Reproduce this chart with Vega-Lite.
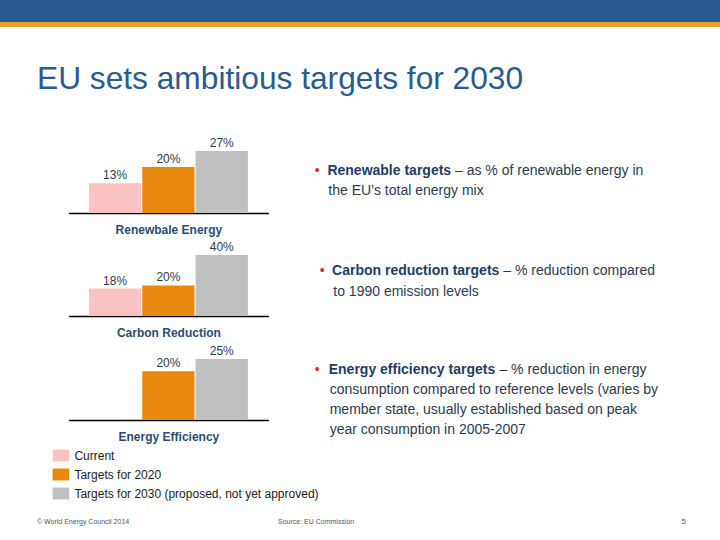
{
  "$schema": "https://vega.github.io/schema/vega-lite/v6.json",
  "padding": 0,
  "background": "white",
  "spacing": 0,
  "datasets": {
    "targets": [
      {"category": "Renewbale Energy", "series": "Current", "value": 0.13},
      {"category": "Renewbale Energy", "series": "Targets for 2020", "value": 0.20},
      {"category": "Renewbale Energy", "series": "Targets for 2030 (proposed, not yet approved)", "value": 0.27},
      {"category": "Carbon Reduction", "series": "Current", "value": 0.18},
      {"category": "Carbon Reduction", "series": "Targets for 2020", "value": 0.20},
      {"category": "Carbon Reduction", "series": "Targets for 2030 (proposed, not yet approved)", "value": 0.40},
      {"category": "Energy Efficiency", "series": "Targets for 2020", "value": 0.20},
      {"category": "Energy Efficiency", "series": "Targets for 2030 (proposed, not yet approved)", "value": 0.25}
    ],
    "notes": [
      {"target": "Renewable", "part": "bullet", "line": 1, "text": "•"},
      {"target": "Renewable", "part": "lead", "line": 1, "text": "Renewable targets"},
      {"target": "Renewable", "part": "rest", "line": 1, "text": "– as % of renewable energy in"},
      {"target": "Renewable", "part": "cont", "line": 2, "text": "the EU’s total energy mix"},
      {"target": "Carbon", "part": "bullet", "line": 1, "text": "•"},
      {"target": "Carbon", "part": "lead", "line": 1, "text": "Carbon reduction targets"},
      {"target": "Carbon", "part": "rest", "line": 1, "text": "– % reduction compared"},
      {"target": "Carbon", "part": "cont", "line": 2, "text": "to 1990 emission levels"},
      {"target": "Efficiency", "part": "bullet", "line": 1, "text": "•"},
      {"target": "Efficiency", "part": "lead", "line": 1, "text": "Energy efficiency targets"},
      {"target": "Efficiency", "part": "rest", "line": 1, "text": "–  % reduction in energy"},
      {"target": "Efficiency", "part": "cont", "line": 2, "text": "consumption compared to reference levels (varies by"},
      {"target": "Efficiency", "part": "cont", "line": 3, "text": "member state, usually established based on peak"},
      {"target": "Efficiency", "part": "cont", "line": 4, "text": "year consumption in 2005-2007"}
    ],
    "footer": [
      {"slot": "left", "label": "© World Energy Council 2014"},
      {"slot": "center", "label": "Source: EU Commission"},
      {"slot": "right", "label": "5"}
    ]
  },
  "vconcat": [
    {
      "width": 720, "height": 22,
      "data": {"values": [{"band": "header"}]},
      "mark": {"type": "rect", "color": "#275a8e"},
      "encoding": {}
    },
    {
      "width": 720, "height": 5,
      "data": {"values": [{"band": "stripe"}]},
      "mark": {"type": "rect", "color": "#e8a21d"},
      "encoding": {},
      "title": {"text": "EU sets ambitious targets for 2030", "orient": "bottom", "anchor": "start", "frame": "group", "baseline": "top", "dx": 37, "offset": 37, "fontSize": 31.7, "fontWeight": "normal", "color": "#2a5b8e", "font": "Liberation Sans"}
    },
    {
      "hconcat": [
        {"width": 22.6, "height": 117, "data": {"values": []}, "mark": "rect", "encoding": {}},
        {
          "width": 200, "height": 117,
          "data": {"name": "targets"},
          "transform": [{"filter": "datum.category === 'Renewbale Energy'"}],
          "encoding": {
            "x": {"field": "series", "type": "nominal", "scale": {"domain": ["Current", "Targets for 2020", "Targets for 2030 (proposed, not yet approved)"], "paddingInner": 0.02, "paddingOuter": 0.385},
              "axis": {"title": "Renewbale Energy", "labels": false, "ticks": false, "domain": true, "domainColor": "#000000", "domainWidth": 1.5, "titleFontSize": 12, "titleFontWeight": "bold", "titleColor": "#2c4d72", "titlePadding": 11, "titleFont": "Liberation Sans"}},
            "y": {"field": "value", "type": "quantitative", "scale": {"domain": [0, 0.5095], "nice": false}, "axis": null}
          },
          "layer": [
            {"mark": {"type": "bar"}, "encoding": {"color": {"field": "series", "type": "nominal", "scale": {"domain": ["Current", "Targets for 2020", "Targets for 2030 (proposed, not yet approved)"], "range": ["#fac2c2", "#e8880c", "#c0c0c0"]}, "legend": null}}},
            {"mark": {"type": "text", "baseline": "bottom", "dy": -1, "fontSize": 12, "color": "#2e3b4d", "font": "Liberation Sans"}, "encoding": {"text": {"field": "value", "type": "quantitative", "format": ".0%"}}}
          ]
        },
        {
          "width": 2, "height": 117,
          "data": {"name": "notes"},
          "transform": [{"filter": "datum.target === 'Renewable'"}],
          "encoding": {
            "y": {"field": "line", "type": "quantitative", "scale": {"domain": [-2.695, 3.069], "reverse": true, "nice": false, "zero": false}, "axis": null},
            "text": {"field": "text", "type": "nominal"}
          },
          "layer": [
            {"transform": [{"filter": "datum.part === 'bullet'"}], "mark": {"type": "text", "align": "left", "baseline": "middle", "fontSize": 14, "color": "#c8322e", "font": "Liberation Sans"}},
            {"transform": [{"filter": "datum.part === 'lead'"}], "mark": {"type": "text", "align": "left", "baseline": "middle", "dx": 12.6, "fontSize": 14, "fontWeight": "bold", "color": "#1f3d66", "font": "Liberation Sans"}},
            {"transform": [{"filter": "datum.part === 'rest'"}], "mark": {"type": "text", "align": "left", "baseline": "middle", "dx": 140.2, "fontSize": 14, "color": "#2b3a4f", "font": "Liberation Sans"}},
            {"transform": [{"filter": "datum.part === 'cont'"}], "mark": {"type": "text", "align": "left", "baseline": "middle", "dx": 13.5, "fontSize": 14, "color": "#2b3a4f", "font": "Liberation Sans"}}
          ]
        }
      ],
      "spacing": 45.4,
      "bounds": "flush",
      "resolve": {"scale": {"x": "independent", "y": "independent", "color": "independent"}, "legend": {"color": "independent"}}
    },
    {
      "hconcat": [
        {"width": 17.6, "height": 81, "data": {"values": []}, "mark": "rect", "encoding": {}},
        {
          "width": 200, "height": 81,
          "data": {"name": "targets"},
          "transform": [{"filter": "datum.category === 'Carbon Reduction'"}],
          "encoding": {
            "x": {"field": "series", "type": "nominal", "scale": {"domain": ["Current", "Targets for 2020", "Targets for 2030 (proposed, not yet approved)"], "paddingInner": 0.02, "paddingOuter": 0.385},
              "axis": {"title": "Carbon Reduction", "labels": false, "ticks": false, "domain": true, "domainColor": "#000000", "domainWidth": 1.5, "titleFontSize": 12, "titleFontWeight": "bold", "titleColor": "#2c4d72", "titlePadding": 11, "titleFont": "Liberation Sans"}},
            "y": {"field": "value", "type": "quantitative", "scale": {"domain": [0, 0.5311], "nice": false}, "axis": null}
          },
          "layer": [
            {"mark": {"type": "bar"}, "encoding": {"color": {"field": "series", "type": "nominal", "scale": {"domain": ["Current", "Targets for 2020", "Targets for 2030 (proposed, not yet approved)"], "range": ["#fac2c2", "#e8880c", "#c0c0c0"]}, "legend": null}}},
            {"mark": {"type": "text", "baseline": "bottom", "dy": -1, "fontSize": 12, "color": "#2e3b4d", "font": "Liberation Sans"}, "encoding": {"text": {"field": "value", "type": "quantitative", "format": ".0%"}}}
          ]
        },
        {
          "width": 2, "height": 81,
          "data": {"name": "notes"},
          "transform": [{"filter": "datum.target === 'Carbon'"}],
          "encoding": {
            "y": {"field": "line", "type": "quantitative", "scale": {"domain": [-0.788, 3.202], "reverse": true, "nice": false, "zero": false}, "axis": null},
            "text": {"field": "text", "type": "nominal"}
          },
          "layer": [
            {"transform": [{"filter": "datum.part === 'bullet'"}], "mark": {"type": "text", "align": "left", "baseline": "middle", "fontSize": 14, "color": "#c8322e", "font": "Liberation Sans"}},
            {"transform": [{"filter": "datum.part === 'lead'"}], "mark": {"type": "text", "align": "left", "baseline": "middle", "dx": 12.3, "fontSize": 14, "fontWeight": "bold", "color": "#1f3d66", "font": "Liberation Sans"}},
            {"transform": [{"filter": "datum.part === 'rest'"}], "mark": {"type": "text", "align": "left", "baseline": "middle", "dx": 183.4, "fontSize": 14, "color": "#2b3a4f", "font": "Liberation Sans"}},
            {"transform": [{"filter": "datum.part === 'cont'"}], "mark": {"type": "text", "align": "left", "baseline": "middle", "dx": 13.5, "fontSize": 14, "color": "#2b3a4f", "font": "Liberation Sans"}}
          ]
        }
      ],
      "spacing": 50.4,
      "bounds": "flush",
      "resolve": {"scale": {"x": "independent", "y": "independent", "color": "independent"}, "legend": {"color": "independent"}}
    },
    {
      "hconcat": [
        {"width": 22.6, "height": 82, "data": {"values": []}, "mark": "rect", "encoding": {}},
        {
          "width": 200, "height": 82,
          "data": {"name": "targets"},
          "transform": [{"filter": "datum.category === 'Energy Efficiency'"}],
          "encoding": {
            "x": {"field": "series", "type": "nominal", "scale": {"domain": ["Current", "Targets for 2020", "Targets for 2030 (proposed, not yet approved)"], "paddingInner": 0.02, "paddingOuter": 0.385},
              "axis": {"title": "Energy Efficiency", "labels": false, "ticks": false, "domain": true, "domainColor": "#000000", "domainWidth": 1.5, "titleFontSize": 12, "titleFontWeight": "bold", "titleColor": "#2c4d72", "titlePadding": 11, "titleFont": "Liberation Sans"}},
            "y": {"field": "value", "type": "quantitative", "scale": {"domain": [0, 0.3361], "nice": false}, "axis": null}
          },
          "layer": [
            {"mark": {"type": "bar"}, "encoding": {"color": {"field": "series", "type": "nominal", "scale": {"domain": ["Current", "Targets for 2020", "Targets for 2030 (proposed, not yet approved)"], "range": ["#fac2c2", "#e8880c", "#c0c0c0"]},
              "legend": {"title": null, "orient": "none", "legendX": -16, "legendY": 109, "direction": "vertical", "symbolType": "M-1,-0.72H1V0.72H-1Z", "symbolSize": 276, "symbolStrokeWidth": 0, "symbolOpacity": 1, "labelFontSize": 12, "labelColor": "#222222", "labelFont": "Liberation Sans", "labelOffset": 5, "rowPadding": 4, "labelLimit": 400}}}},
            {"mark": {"type": "text", "baseline": "bottom", "dy": -1, "fontSize": 12, "color": "#2e3b4d", "font": "Liberation Sans"}, "encoding": {"text": {"field": "value", "type": "quantitative", "format": ".0%"}}}
          ]
        },
        {
          "width": 2, "height": 82,
          "data": {"name": "notes"},
          "transform": [{"filter": "datum.target === 'Efficiency'"}],
          "encoding": {
            "y": {"field": "line", "type": "quantitative", "scale": {"domain": [-0.552, 3.487], "reverse": true, "nice": false, "zero": false}, "axis": null},
            "text": {"field": "text", "type": "nominal"}
          },
          "layer": [
            {"transform": [{"filter": "datum.part === 'bullet'"}], "mark": {"type": "text", "align": "left", "baseline": "middle", "fontSize": 14, "color": "#c8322e", "font": "Liberation Sans"}},
            {"transform": [{"filter": "datum.part === 'lead'"}], "mark": {"type": "text", "align": "left", "baseline": "middle", "dx": 13.9, "fontSize": 14, "fontWeight": "bold", "color": "#1f3d66", "font": "Liberation Sans"}},
            {"transform": [{"filter": "datum.part === 'rest'"}], "mark": {"type": "text", "align": "left", "baseline": "middle", "dx": 184.6, "fontSize": 14, "color": "#2b3a4f", "font": "Liberation Sans"}},
            {"transform": [{"filter": "datum.part === 'cont'"}], "mark": {"type": "text", "align": "left", "baseline": "middle", "dx": 14.9, "fontSize": 14, "color": "#2b3a4f", "font": "Liberation Sans"}}
          ]
        }
      ],
      "spacing": 45.4,
      "bounds": "flush",
      "resolve": {"scale": {"x": "independent", "y": "independent", "color": "independent"}, "legend": {"color": "independent"}}
    },
    {
      "width": 720, "height": 44,
      "data": {"name": "footer"},
      "encoding": {"text": {"field": "label", "type": "nominal"}},
      "layer": [
        {"transform": [{"filter": "datum.slot === 'left'"}], "mark": {"type": "text", "align": "left", "baseline": "middle", "dx": -323, "fontSize": 7, "color": "#555555", "font": "Liberation Sans"}},
        {"transform": [{"filter": "datum.slot === 'center'"}], "mark": {"type": "text", "align": "left", "baseline": "middle", "dx": -82, "fontSize": 7, "color": "#555555", "font": "Liberation Sans"}},
        {"transform": [{"filter": "datum.slot === 'right'"}], "mark": {"type": "text", "align": "right", "baseline": "middle", "dx": 326, "fontSize": 8, "color": "#555555", "font": "Liberation Sans"}}
      ]
    }
  ],
  "resolve": {"scale": {"x": "independent", "y": "independent", "color": "independent"}, "legend": {"color": "independent"}},
  "config": {"view": {"stroke": null}, "font": "Liberation Sans"}
}
